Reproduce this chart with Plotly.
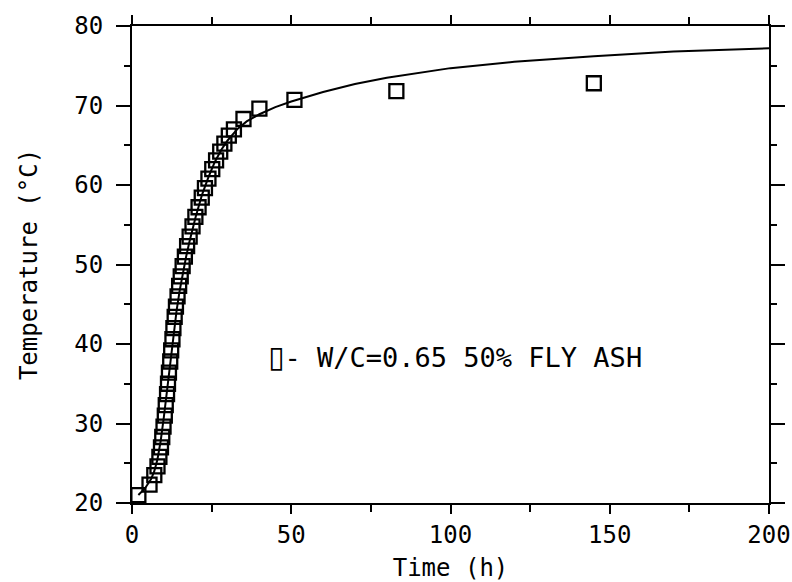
import plotly.graph_objects as go

# Measured data (squares)
time_meas = [2.0, 5.5, 7.0, 8.0, 8.6, 9.1, 9.5, 9.9, 10.3, 10.6, 11.0, 11.3, 11.6, 12.0, 12.3,
             12.7, 13.0, 13.4, 13.8, 14.3, 14.8, 15.3, 15.9, 16.6, 17.3, 18.1, 19.0, 19.9,
             20.9, 21.9, 22.9, 24.0, 25.2, 26.4, 27.7, 29.0, 30.4, 32.0, 35.0, 40.0, 51.0,
             83.0, 145.0]
temp_meas = [21.0, 22.3, 23.5, 24.6, 25.8, 27.0, 28.3, 29.6, 31.0, 32.3, 33.7, 35.0, 36.4,
             37.8, 39.2, 40.6, 42.0, 43.4, 44.7, 46.0, 47.3, 48.5, 49.8, 51.0, 52.3, 53.5,
             54.8, 56.0, 57.2, 58.4, 59.6, 60.8, 62.0, 63.1, 64.2, 65.2, 66.2, 67.0, 68.3,
             69.6, 70.7, 71.8, 72.8]

# Model curve
time_model = [2, 4, 6, 7, 8, 9, 10, 11, 12, 13, 14, 15, 16, 17, 18, 20, 22, 24, 26, 28, 30,
              33, 36, 40, 45, 50, 60, 70, 80, 100, 120, 145, 170, 200]
temp_model = [21.0, 21.8, 23.0, 24.0, 25.5, 27.8, 30.8, 34.2, 37.8, 41.2, 44.2, 46.8, 49.0,
              51.0, 52.8, 56.0, 58.8, 61.0, 62.9, 64.4, 65.6, 67.0, 68.0, 68.9, 69.8, 70.5,
              71.7, 72.7, 73.5, 74.7, 75.5, 76.2, 76.8, 77.2]

x_ticks = [0, 50, 100, 150, 200]
x_minor = [25, 75, 125, 175]
y_ticks = [20, 30, 40, 50, 60, 70, 80]
y_minor = [25, 35, 45, 55, 65, 75]

legend_symbol = "\u25af"
legend_label = "- W/C=0.65 50% FLY ASH"
x_title = "Time (h)"
y_title = "Temperature (\u00b0C)"

FONT = "DejaVu Sans Mono"

fig = go.Figure()
fig.add_trace(go.Scatter(
    x=time_model, y=temp_model, mode="lines",
    line=dict(color="black", width=2), showlegend=False, hoverinfo="skip"))
fig.add_trace(go.Scatter(
    x=time_meas, y=temp_meas, mode="markers",
    marker=dict(symbol="square-open", size=14, color="black", line=dict(width=2.3, color="black")),
    showlegend=False))

fig.add_annotation(
    x=42.0, y=38.4, xref="x", yref="y",
    text=("<span style=\"font-family:'DejaVu Sans';font-size:30px\">" + legend_symbol
          + "</span>" + legend_label),
    showarrow=False, xanchor="left", yanchor="middle",
    font=dict(family=FONT, size=27, color="black"))

axis_common = dict(
    showgrid=False, zeroline=False, showline=True, linecolor="black", linewidth=2,
    mirror="allticks", ticks="outside", tickcolor="black", tickwidth=2, automargin=False,
    tickfont=dict(family=FONT, size=24, color="black"),
)

fig.update_xaxes(range=[0, 200], tickvals=x_ticks, ticklen=9, ticklabelstandoff=0,
                 minor=dict(tickvals=x_minor, ticks="outside", ticklen=7,
                            tickcolor="black", tickwidth=2),
                 title=dict(text=x_title, font=dict(family=FONT, size=24, color="black"),
                            standoff=14),
                 **axis_common)
fig.update_yaxes(range=[20, 80], tickvals=y_ticks, ticklen=14, ticklabelstandoff=8,
                 minor=dict(tickvals=y_minor, ticks="outside", ticklen=6,
                            tickcolor="black", tickwidth=2),
                 title=dict(text=y_title, font=dict(family=FONT, size=24, color="black"),
                            standoff=30),
                 **axis_common)

fig.update_layout(
    width=792, height=582,
    margin=dict(l=132, r=23, t=26, b=79, autoexpand=False),
    paper_bgcolor="white", plot_bgcolor="white",
)

fig.write_html(
    "out.html",
    config={"displayModeBar": False},
    post_script="document.body.style.margin='0';document.body.style.overflow='hidden';",
)
